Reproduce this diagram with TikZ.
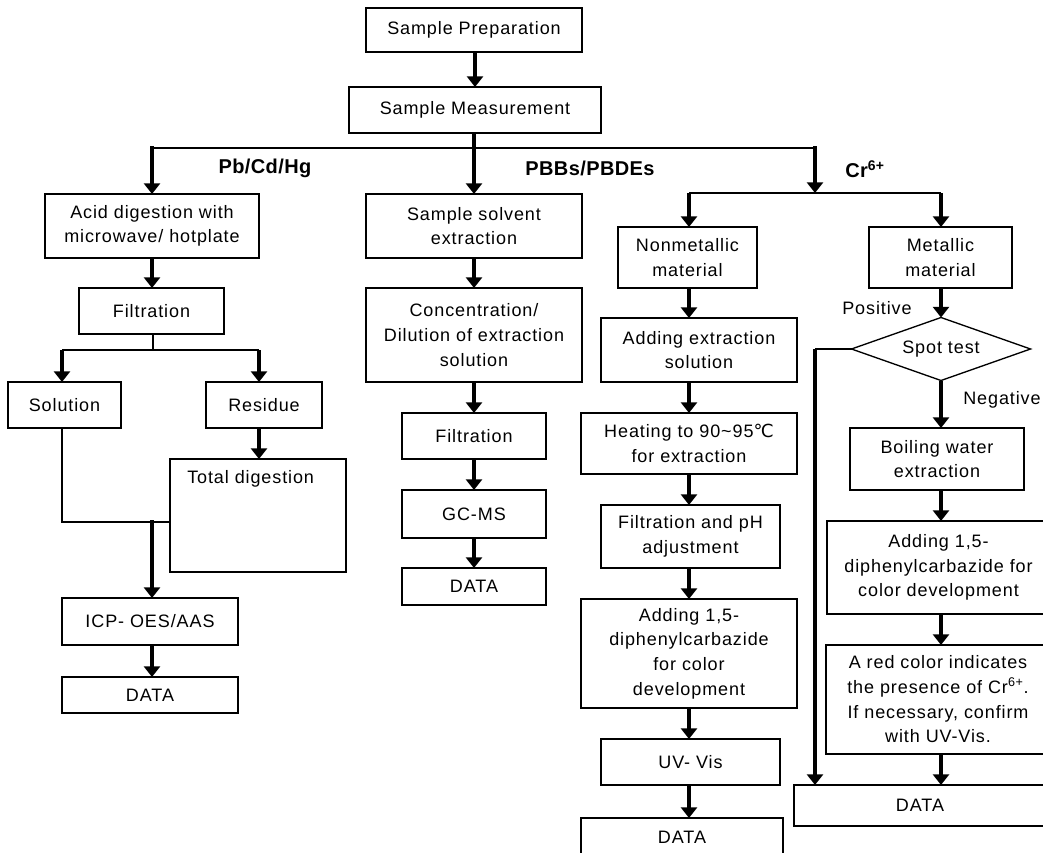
\documentclass[tikz,border=0pt]{standalone}
\usepackage{fontspec}
\setmainfont{Liberation Sans}[LetterSpace=5]
\newfontfamily\labfont{Liberation Sans}[LetterSpace=2]
\newfontfamily\symfont{DejaVu Sans}
\usetikzlibrary{arrows.meta,shapes.geometric}

\tikzset{
  box/.style={draw, line width=1pt, inner sep=0pt, outer sep=0pt, align=center,
    font=\fontsize{13.5}{18.5}\selectfont},
  arr/.style={line width=2.6pt, -{Triangle[width=12pt,length=8pt]}},
  link/.style={line width=1pt},
  branch/.style={font=\labfont\bfseries\fontsize{15}{18}\selectfont, inner sep=0pt},
  note/.style={font=\fontsize{13.5}{18.5}\selectfont, inner sep=0pt},
}
% box from its corners (x1,y1)-(x2,y2), in pixel units
\newcommand\boxnode[6]{%
  \node[box, minimum width={(#4-#2)*0.75pt}, minimum height={(#5-#3)*0.75pt}]
    (#1) at ({(#2+#4)/2},{(#3+#5)/2}) {#6};}

\begin{document}
\begin{tikzpicture}[x=0.75pt,y=-0.75pt]
\useasboundingbox (0,0) rectangle (1043,853);
\clip (0,0) rectangle (1043,853);

% common trunk
\boxnode{prep}{366}{8}{582}{52}{Sample Preparation}
\boxnode{meas}{349}{87}{601}{133}{Sample Measurement}

% Pb/Cd/Hg column
\boxnode{acid}{45}{194}{259}{258}{Acid digestion with\\microwave/ hotplate}
\boxnode{filtA}{79}{288}{224}{334}{Filtration}
\boxnode{sol}{8}{382}{121}{428}{Solution}
\boxnode{res}{206}{382}{322}{428}{Residue}
\boxnode{td}{170}{459}{346}{572}{}
\node[note, anchor=west] (tdtext) at (187,479) {Total digestion};
\boxnode{icp}{62}{598}{238}{645}{ICP- OES/AAS}
\boxnode{dataA}{62}{677}{238}{713}{DATA}

% PBBs/PBDEs column
\boxnode{solv}{366}{194}{582}{258}{Sample solvent\\extraction}
\boxnode{conc}{366}{288}{582}{382}{Concentration/\\Dilution of extraction\\solution}
\boxnode{filtB}{402}{413}{546}{459}{Filtration}
\boxnode{gcms}{402}{490}{546}{538}{GC-MS}
\boxnode{dataB}{402}{568}{546}{605}{DATA}

% Cr(VI), nonmetallic
\boxnode{nonm}{618}{227}{757}{288}{Nonmetallic\\material}
\boxnode{addext}{601}{318}{797}{382}{Adding extraction\\solution}
\boxnode{heat}{581}{413}{797}{474}{Heating to 90\textasciitilde 95{\symfont ℃}\\for extraction}
\boxnode{filtph}{601}{505}{780}{568}{Filtration and pH\\adjustment}
\boxnode{dpcA}{581}{599}{797}{708}{Adding 1,5-\\diphenylcarbazide\\for color\\development}
\boxnode{uv}{601}{739}{780}{785}{UV- Vis}
\boxnode{dataC}{581}{818}{783}{857}{DATA}

% Cr(VI), metallic
\boxnode{met}{869}{227}{1012}{288}{Metallic\\material}
\node[draw, line width=1pt, diamond, aspect=2.8, inner sep=0pt, outer sep=0pt,
      minimum width=179*0.75pt, minimum height=63*0.75pt,
      font=\fontsize{13.5}{18.5}\selectfont] (spot) at (941,349) {Spot test};
\boxnode{boil}{850}{428}{1024}{490}{Boiling water\\extraction}
\boxnode{dpcB}{827}{521}{1050}{614}{Adding 1,5-\\diphenylcarbazide for\\color development}
\boxnode{red}{826}{645}{1050}{754}{A red color indicates\\the presence of Cr\textsuperscript{6+}.\\If necessary, confirm\\with UV-Vis.}
\boxnode{dataD}{794}{785}{1046}{826}{DATA}

% branch labels
\node[branch] (lPb) at (265,168) {Pb/Cd/Hg};
\node[branch] (lPBB) at (590,168) {PBBs/PBDEs};
\node[branch, anchor=west] (lCr) at (845,169) {Cr\textsuperscript{6+}};
\node[note] (lpos) at (877,308) {Positive};
\node[note] (lneg) at (1002,400) {Negative};

% junction points
\coordinate (jL) at (152,146);
\coordinate (jR) at (815,146);
\coordinate (jCr) at (815,193);
\coordinate (jNm) at (689,193);
\coordinate (jMe) at (941,193);
\coordinate (jF) at (153,350);
\coordinate (jS) at (62,350);
\coordinate (jRs) at (259,350);
\coordinate (jSol) at (62,522);
\coordinate (jIcp) at (152,520);
\coordinate (jPos) at (815,349);

% trunk connectors
\draw[arr] (prep.south -| 475,0) -- (meas.north -| 475,0);
\draw[link] (152,148) -- (815,148);
\draw[arr] (meas.south -| 474,0) -- (solv.north -| 474,0);
\draw[arr] (jL) -- (acid.north -| jL);
\draw[arr] (jR) -- (jCr);
\draw[link] (jNm) -- (jMe);
\draw[arr] (jNm) -- (nonm.north -| jNm);
\draw[arr] (jMe) -- (met.north -| jMe);

% Pb/Cd/Hg connectors
\draw[arr] (acid.south -| jL) -- (filtA.north -| jL);
\draw[link] (filtA.south -| jF) -- (jF);
\draw[link] (jS) -- (jRs);
\draw[arr] (jS) -- (sol.north -| jS);
\draw[arr] (jRs) -- (res.north -| jRs);
\draw[arr] (res.south -| jRs) -- (td.north -| jRs);
\draw[link] (sol.south -| jSol) -- (jSol) -- (td.west |- jSol);
\draw[arr] (jIcp) -- (icp.north -| jIcp);
\draw[arr] (icp.south -| jIcp) -- (dataA.north -| jIcp);

% PBBs/PBDEs connectors
\foreach \a/\b in {solv/conc, conc/filtB, filtB/gcms, gcms/dataB}
  \draw[arr] (\a.south -| 474,0) -- (\b.north -| 474,0);

% nonmetallic connectors
\foreach \a/\b in {nonm/addext, addext/heat, heat/filtph, filtph/dpcA, dpcA/uv, uv/dataC}
  \draw[arr] (\a.south -| jNm) -- (\b.north -| jNm);

% metallic connectors
\draw[arr] (met.south -| jMe) -- (spot.north);
\draw[arr] (spot.south) -- (boil.north -| spot.south);
\foreach \a/\b in {boil/dpcB, dpcB/red, red/dataD}
  \draw[arr] (\a.south -| jMe) -- (\b.north -| jMe);
\draw[link] (spot.west) -- (jPos);
\draw[arr] (jPos) -- (dataD.north -| jPos);
\end{tikzpicture}
\end{document}
